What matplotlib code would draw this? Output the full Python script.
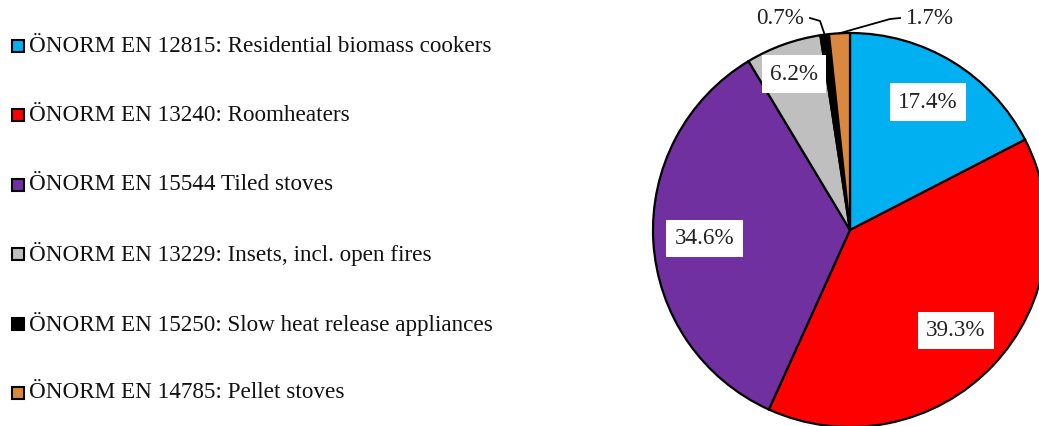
import numpy as np
import matplotlib
matplotlib.use("Agg")
import matplotlib.pyplot as plt
from matplotlib.patches import Rectangle

categories = [
    "ÖNORM EN 12815: Residential biomass cookers",
    "ÖNORM EN 13240: Roomheaters",
    "ÖNORM EN 15544 Tiled stoves",
    "ÖNORM EN 13229: Insets, incl. open fires",
    "ÖNORM EN 15250: Slow heat release appliances",
    "ÖNORM EN 14785: Pellet stoves",
]
shares = [17.4, 39.3, 34.6, 6.2, 0.7, 1.7]
colors = ["#00B0F0", "#FF0000", "#7030A0", "#BFBFBF", "#000000", "#DA883F"]

plt.rcParams["font.family"] = ["Liberation Serif", "DejaVu Serif"]
FS = 16.7

W, H = 1039, 426
fig = plt.figure(figsize=(W / 100, H / 100), dpi=100)

# pie centred at (850, 230) px, radius 197 px
cx, cy, r = 850, 230, 197
ax = fig.add_axes([(cx - r) / W, (H - cy - r) / H, 2 * r / W, 2 * r / H])

wedges, _ = ax.pie(shares, colors=colors, startangle=90, counterclock=False,
                   radius=1, wedgeprops=dict(edgecolor="black", linewidth=1.6))
ax.set_xlim(-1, 1)
ax.set_ylim(-1, 1)
ax.axis("off")
for w in wedges:
    w.set_clip_on(False)

# inside labels on white boxes
inside = {0: 0.76, 1: 0.74, 2: 0.74, 3: 0.84}
for i, w in enumerate(wedges):
    mid = np.deg2rad((w.theta1 + w.theta2) / 2)
    txt = f"{shares[i]:.1f}%"
    if i in inside:
        d = inside[i]
        ax.text(d * np.cos(mid), d * np.sin(mid), txt, ha="center", va="center",
                fontsize=FS, color="#222222",
                bbox=dict(facecolor="white", edgecolor="none", pad=6))

# outside labels with leader lines for the thin slices
outside = {4: ((-0.152, 1.061), (-0.213, 1.076), "right"),
           5: ((0.203, 1.071), (0.264, 1.076), "left")}
for i, (elbow, tpos, ha) in outside.items():
    w = wedges[i]
    mid = np.deg2rad((w.theta1 + w.theta2) / 2)
    px, py = np.cos(mid), np.sin(mid)
    ax.plot([px, elbow[0], tpos[0] + (0.01 if ha == "right" else -0.01)],
            [py, elbow[1], tpos[1]], color="black", lw=1.3, clip_on=False)
    ax.text(tpos[0] + (-0.02 if ha == "right" else 0.02), tpos[1],
            f"{shares[i]:.1f}%", ha=ha, va="center", fontsize=FS,
            color="#222222", clip_on=False)

# legend on the left
for i, (lab, col) in enumerate(zip(categories, colors)):
    yc = 46 + i * 69.4
    sq = 12
    fig.patches.append(Rectangle((12 / W, (H - yc - sq / 2) / H), sq / W, sq / H,
                                 transform=fig.transFigure, facecolor=col,
                                 edgecolor="black", linewidth=1.5))
    fig.text(29 / W, (H - yc) / H, lab, ha="left", va="center",
             fontsize=FS, color="#111111")

fig.savefig("out.png", dpi=100)
